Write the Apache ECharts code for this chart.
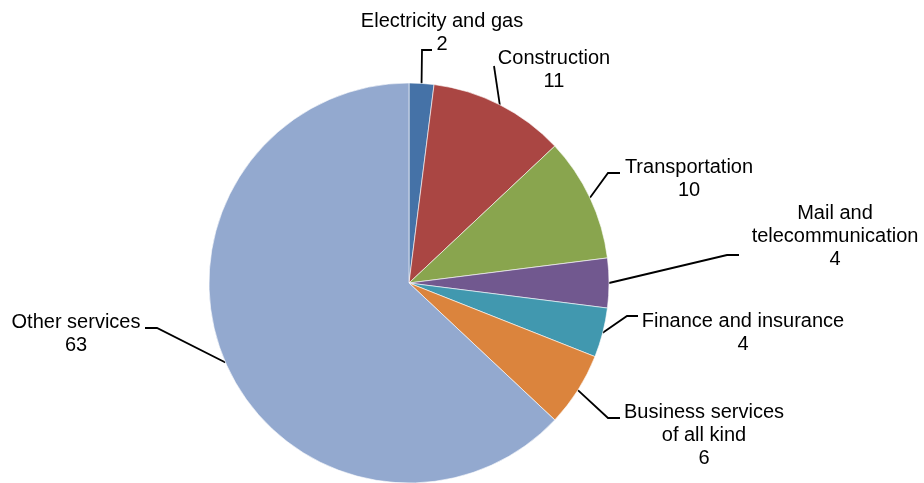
<!DOCTYPE html>
<html>
<head>
<meta charset="utf-8">
<script src="https://cdn.jsdelivr.net/npm/echarts@6/dist/echarts.min.js"></script>
<style>
  html, body { margin: 0; padding: 0; background: #fff; }
  #chart { width: 924px; height: 483px; }
</style>
</head>
<body>
<div id="chart"></div>
<script>
// Sector shares (percent), clockwise from 12 o'clock
const sectors = [
  'Electricity and gas',
  'Construction',
  'Transportation',
  'Mail and\ntelecommunication',
  'Finance and insurance',
  'Business services\nof all kind',
  'Other services'
];
const shares = [2, 11, 10, 4, 4, 6, 63];
const sliceColors = ['#4572A7', '#AA4643', '#89A54E', '#71588F', '#4198AF', '#DB843D', '#93A9CF'];

// Where each label sits and how its leader line bends (page pixels)
const labelPlacement = [
  { text: [442, 33],    bend: [422, 50],  tip: [432, 50] },
  { text: [554, 69.5],  bend: [494, 66],  tip: [494, 66] },
  { text: [689, 178.5], bend: [608, 173], tip: [620, 173] },
  { text: [835, 236],   bend: [727, 255], tip: [739, 255] },
  { text: [743, 332.5], bend: [627, 316], tip: [638, 316] },
  { text: [704, 435],   bend: [608, 418], tip: [620, 418] },
  { text: [76, 333.5],  bend: [157, 328], tip: [145, 328] }
];

const chart = echarts.init(document.getElementById('chart'), null, { renderer: 'canvas' });

chart.setOption({
  animation: false,
  backgroundColor: '#ffffff',
  series: [{
    type: 'pie',
    center: [409, 283],
    radius: 200,
    startAngle: 90,
    clockwise: true,
    silent: true,
    data: sectors.map((name, i) => ({
      name: name,
      value: shares[i],
      itemStyle: { color: sliceColors[i] }
    })),
    itemStyle: { borderColor: '#ffffff', borderWidth: 0.6 },
    label: {
      show: true,
      position: 'outside',
      formatter: '{b}\n{c}',
      fontFamily: 'Liberation Sans, Arial, sans-serif',
      fontSize: 20,
      lineHeight: 23,
      color: '#000000',
      align: 'center'
    },
    labelLine: {
      show: true,
      lineStyle: { color: '#000000', width: 1.8 }
    },
    labelLayout: function (params) {
      const p = labelPlacement[params.dataIndex];
      const start = params.labelLinePoints ? params.labelLinePoints[0] : p.bend;
      return {
        x: p.text[0],
        y: p.text[1],
        align: 'center',
        verticalAlign: 'middle',
        labelLinePoints: [start, p.bend, p.tip]
      };
    }
  }]
});
</script>
</body>
</html>
